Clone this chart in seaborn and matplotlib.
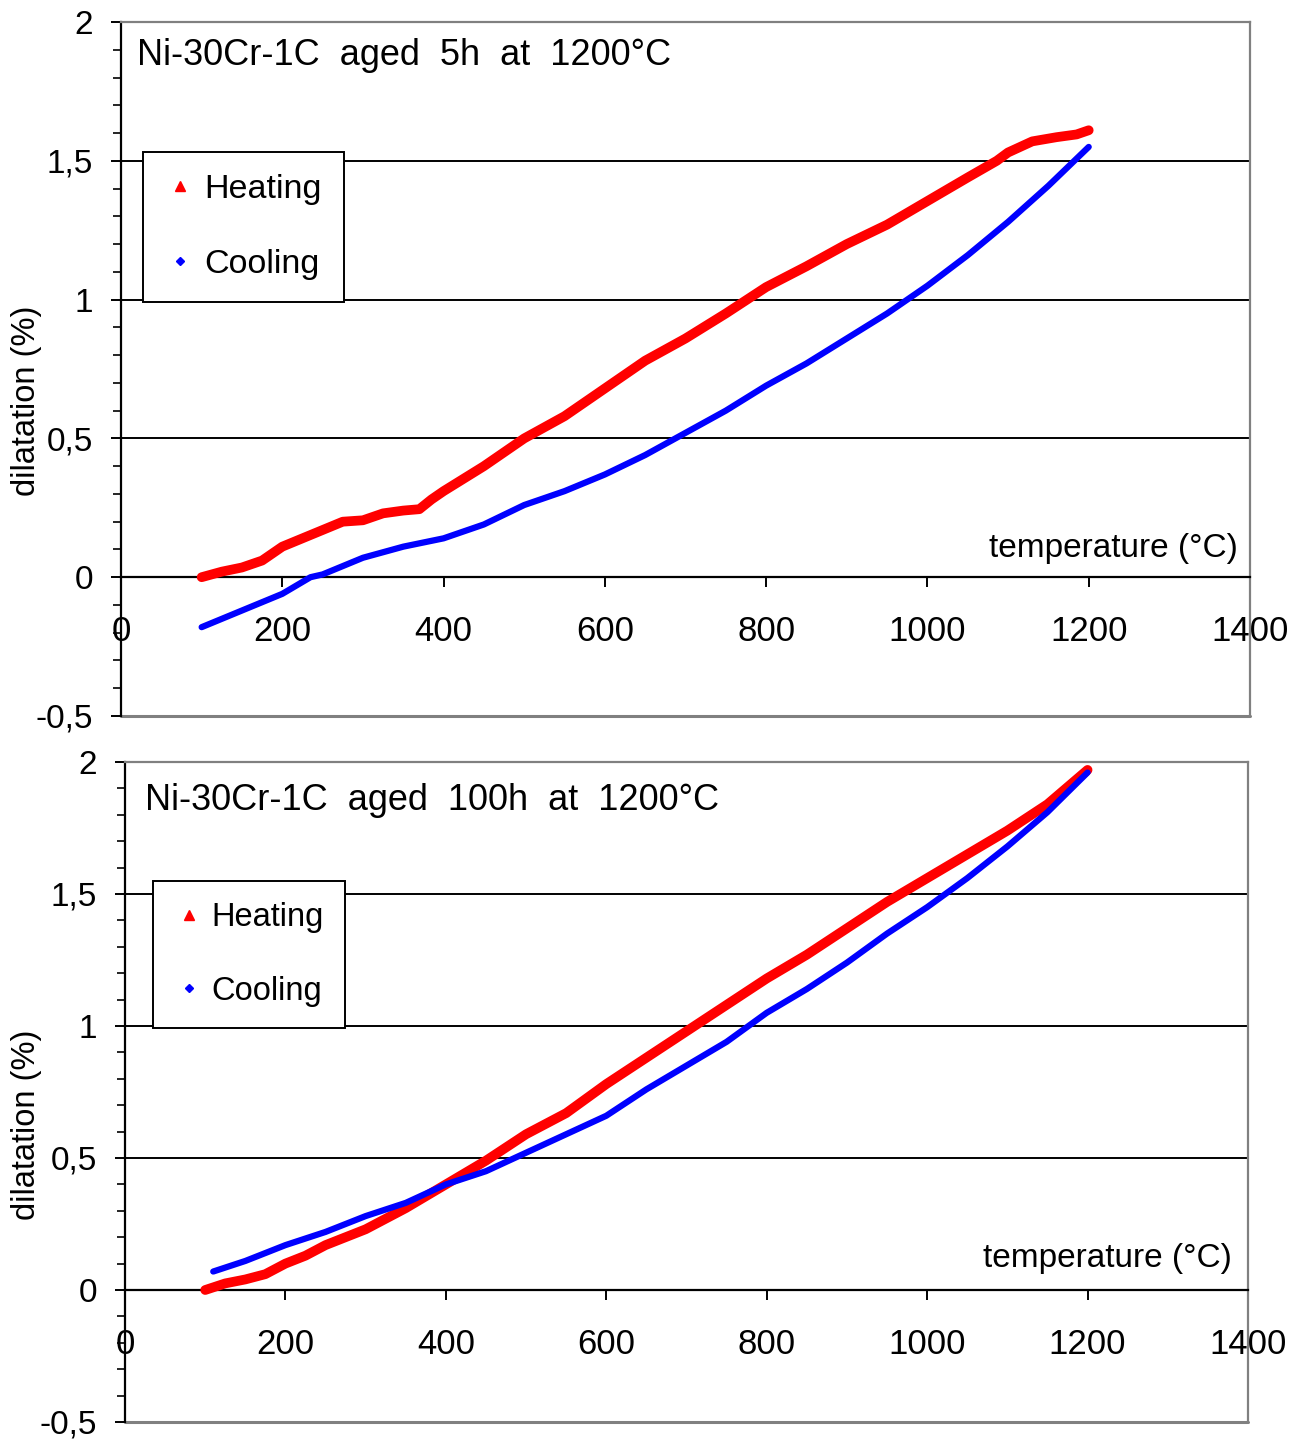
import numpy as np
import pandas as pd
import matplotlib
matplotlib.use("Agg")
import matplotlib.pyplot as plt
import matplotlib.transforms as mtransforms
from matplotlib.lines import Line2D
import seaborn as sns

# ---------------- data ----------------
heat5_T = [100, 125, 150, 175, 200, 225, 250, 275, 300, 325, 350, 370, 385, 400, 450, 500, 550, 600,
           650, 700, 750, 800, 850, 900, 950, 1000, 1050, 1086, 1100, 1130, 1160, 1185, 1200]
heat5_D = [0.0, 0.02, 0.035, 0.06, 0.11, 0.14, 0.17, 0.20, 0.205, 0.23, 0.24, 0.245, 0.28, 0.31, 0.40, 0.50,
           0.58, 0.68, 0.78, 0.86, 0.95, 1.045, 1.12, 1.20, 1.27, 1.355, 1.44, 1.50, 1.53, 1.57, 1.585, 1.595, 1.61]
cool5_T = [100, 150, 200, 235, 250, 300, 350, 400, 450, 500, 550, 600, 650, 700, 750, 800, 850, 900,
           950, 975, 1000, 1050, 1100, 1150, 1200]
cool5_D = [-0.18, -0.12, -0.06, 0.0, 0.01, 0.07, 0.11, 0.14, 0.19, 0.26, 0.31, 0.37, 0.44, 0.52, 0.60,
           0.69, 0.77, 0.86, 0.95, 1.0, 1.05, 1.16, 1.28, 1.41, 1.55]

heat100_T = [100, 125, 150, 175, 200, 225, 250, 300, 350, 400, 450, 500, 550, 600, 650, 700, 750, 800,
             850, 900, 950, 1000, 1050, 1100, 1150, 1200]
heat100_D = [0.0, 0.025, 0.04, 0.06, 0.10, 0.13, 0.17, 0.23, 0.31, 0.40, 0.49, 0.59, 0.67, 0.78, 0.88,
             0.98, 1.08, 1.18, 1.27, 1.37, 1.47, 1.56, 1.65, 1.74, 1.84, 1.97]
cool100_T = [110, 150, 200, 250, 300, 350, 400, 450, 500, 550, 600, 650, 700, 750, 800, 850, 900, 950,
             1000, 1050, 1100, 1150, 1200]
cool100_D = [0.07, 0.11, 0.17, 0.22, 0.28, 0.33, 0.40, 0.45, 0.52, 0.59, 0.66, 0.76, 0.85, 0.94, 1.05,
             1.14, 1.24, 1.35, 1.45, 1.56, 1.68, 1.81, 1.96]

titles = ["Ni-30Cr-1C  aged  5h  at  1200°C", "Ni-30Cr-1C  aged  100h  at  1200°C"]
series_names = ["Heating", "Cooling"]
x_ticks = [0, 200, 400, 600, 800, 1000, 1200, 1400]
y_ticks = [-0.5, 0, 0.5, 1, 1.5, 2]
y_tick_labels = ["-0,5", "0", "0,5", "1", "1,5", "2"]
x_label = "temperature (°C)"
y_label = "dilatation (%)"

RED = "#ff0000"
BLUE = "#0000ff"
GRAY = "#808080"

sns.set_theme(style="white")
plt.rcParams["font.family"] = ["Liberation Sans", "DejaVu Sans"]
plt.rcParams["text.color"] = "black"
plt.rcParams["legend.labelcolor"] = "black"

W, H = 1291, 1439
fig = plt.figure(figsize=(W / 100, H / 100), dpi=100)

# axes positions in pixels: left, top, right, bottom
boxes = [(121, 22, 1250, 716), (125, 762, 1248, 1422)]
legend_pos = [(0.0195, 0.8127), (0.025, 0.8197)]
legend_fs = [24.5, 23.5]
title_pos = [(0.014, 0.952), (0.018, 0.942)]
xlabel_pos = [(0.989, 0.104), (0.986, 0.12)]
ylabel_y = [401, 1125]

data = [(heat5_T, heat5_D, cool5_T, cool5_D), (heat100_T, heat100_D, cool100_T, cool100_D)]

for i, (l, t, r, b) in enumerate(boxes):
    ax = fig.add_axes([l / W, 1 - b / H, (r - l) / W, (b - t) / H])
    hT, hD, cT, cD = data[i]
    dfh = pd.DataFrame({"T": hT, "D": hD})
    dfc = pd.DataFrame({"T": cT, "D": cD})
    # gridlines
    for yv in [0.5, 1.0, 1.5]:
        ax.axhline(yv, color="black", lw=1.4, zorder=1)
    sns.lineplot(data=dfh, x="T", y="D", ax=ax, color=RED, lw=7, sort=False,
                 estimator=None, zorder=3, solid_capstyle="round")
    sns.lineplot(data=dfc, x="T", y="D", ax=ax, color=BLUE, lw=4.5, sort=False,
                 estimator=None, zorder=4, solid_capstyle="round")
    ax.set_xlim(0, 1400)
    ax.set_ylim(-0.5, 2)
    ax.set_xlabel("")
    ax.set_ylabel("")
    ax.set_facecolor("white")

    # spines
    ax.spines["bottom"].set_position(("data", 0))
    ax.spines["bottom"].set_color("black")
    ax.spines["bottom"].set_linewidth(1.6)
    ax.spines["left"].set_color("black")
    ax.spines["left"].set_linewidth(1.6)
    for s in ["top", "right"]:
        ax.spines[s].set_color(GRAY)
        ax.spines[s].set_linewidth(1.6)
    ax.plot([0, 1], [0, 0], transform=ax.transAxes, color=GRAY, lw=2.2, clip_on=False, zorder=0)

    ax.set_xticks(x_ticks)
    ax.set_xticklabels([str(v) for v in x_ticks])
    ax.set_yticks(y_ticks)
    ax.set_yticklabels(y_tick_labels)
    ax.set_yticks(np.arange(-0.5, 2.001, 0.1), minor=True)
    ax.tick_params(axis="x", which="major", direction="out", length=7, width=1.4,
                   color="black", labelsize=25, pad=20, bottom=True)
    ax.tick_params(axis="y", which="major", direction="out", length=7, width=1.4,
                   color="black", labelsize=24, pad=13, left=True)
    ax.tick_params(axis="y", which="minor", direction="out", length=6, width=1.2,
                   color="black", left=True)
    for lab in ax.get_xticklabels() + ax.get_yticklabels():
        lab.set_color("black")

    ax.text(title_pos[i][0], title_pos[i][1], titles[i], transform=ax.transAxes,
            fontsize=26, ha="left", va="center", color="black")
    trans = mtransforms.blended_transform_factory(ax.transAxes, ax.transData)
    ax.text(xlabel_pos[i][0], xlabel_pos[i][1], x_label, transform=trans,
            fontsize=24, ha="right", va="center", color="black")
    fig.text(27 / W, 1 - ylabel_y[i] / H, y_label, rotation=90, fontsize=23.5,
             ha="center", va="center", color="black")

    handles = [Line2D([], [], ls="none", marker="^", color=RED, markersize=7),
               Line2D([], [], ls="none", marker="D", color=BLUE, markersize=4.5)]
    leg = ax.legend(handles, series_names, loc="upper left", bbox_to_anchor=legend_pos[i],
                    borderaxespad=0, fontsize=legend_fs[i], frameon=True, fancybox=False,
                    edgecolor="black", labelspacing=1.3, handlelength=0.9,
                    handletextpad=0.25, borderpad=0.65, labelcolor="black")
    leg.get_frame().set_linewidth(1.4)
    leg.get_frame().set_alpha(1)
    leg.set_zorder(10)

fig.savefig("out.png", dpi=100, facecolor="white")
